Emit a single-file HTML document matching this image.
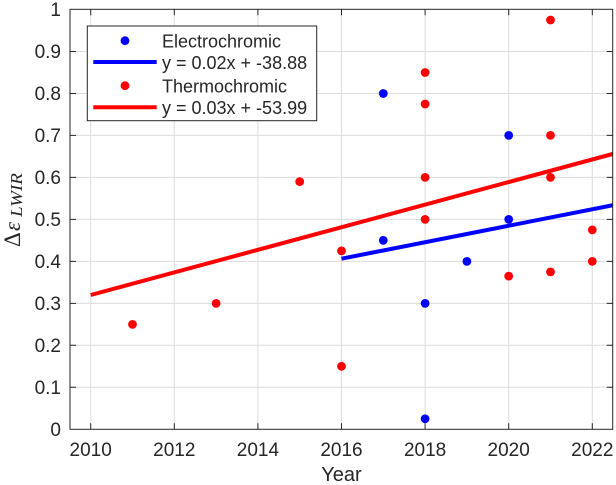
<!DOCTYPE html>
<html>
<head>
<meta charset="utf-8">
<style>
  html,body{margin:0;padding:0;background:#fff;}
  svg{display:block;}
  text{font-family:"Liberation Sans",Arial,sans-serif;fill:#262626;}
</style>
</head>
<body>
<svg width="616" height="485" viewBox="0 0 616 485" xmlns="http://www.w3.org/2000/svg">
  <defs>
    <clipPath id="pa"><rect x="70" y="9.3" width="542.7" height="420"/></clipPath>
  </defs>
  <rect x="0" y="0" width="616" height="485" fill="#fff"/>
  <!-- grid -->
  <g stroke="#dcdcdc" stroke-width="1">
    <line x1="90.7" y1="9.3" x2="90.7" y2="429.3"/>
    <line x1="174.3" y1="9.3" x2="174.3" y2="429.3"/>
    <line x1="257.9" y1="9.3" x2="257.9" y2="429.3"/>
    <line x1="341.5" y1="9.3" x2="341.5" y2="429.3"/>
    <line x1="425.1" y1="9.3" x2="425.1" y2="429.3"/>
    <line x1="508.7" y1="9.3" x2="508.7" y2="429.3"/>
    <line x1="592.3" y1="9.3" x2="592.3" y2="429.3"/>
    <line x1="70" y1="387.3" x2="612.7" y2="387.3"/>
    <line x1="70" y1="345.3" x2="612.7" y2="345.3"/>
    <line x1="70" y1="303.4" x2="612.7" y2="303.4"/>
    <line x1="70" y1="261.4" x2="612.7" y2="261.4"/>
    <line x1="70" y1="219.4" x2="612.7" y2="219.4"/>
    <line x1="70" y1="177.4" x2="612.7" y2="177.4"/>
    <line x1="70" y1="135.4" x2="612.7" y2="135.4"/>
    <line x1="70" y1="93.5" x2="612.7" y2="93.5"/>
    <line x1="70" y1="51.5" x2="612.7" y2="51.5"/>
  </g>
  <!-- ticks -->
  <g stroke="#262626" stroke-width="1">
    <path d="M90.7 429.3v-6M174.3 429.3v-6M257.9 429.3v-6M341.5 429.3v-6M425.1 429.3v-6M508.7 429.3v-6M592.3 429.3v-6"/>
    <path d="M90.7 9.3v6M174.3 9.3v6M257.9 9.3v6M341.5 9.3v6M425.1 9.3v6M508.7 9.3v6M592.3 9.3v6"/>
    <path d="M70 387.3h6M70 345.3h6M70 303.4h6M70 261.4h6M70 219.4h6M70 177.4h6M70 135.4h6M70 93.5h6M70 51.5h6"/>
    <path d="M612.7 387.3h-6M612.7 345.3h-6M612.7 303.4h-6M612.7 261.4h-6M612.7 219.4h-6M612.7 177.4h-6M612.7 135.4h-6M612.7 93.5h-6M612.7 51.5h-6"/>
  </g>
  <!-- data -->
  <g clip-path="url(#pa)">
    <g fill="#0000ff">
      <circle cx="383.3" cy="93.5" r="4.4"/>
      <circle cx="383.3" cy="240.4" r="4.4"/>
      <circle cx="425.1" cy="303.4" r="4.4"/>
      <circle cx="425.1" cy="418.8" r="4.4"/>
      <circle cx="466.9" cy="261.4" r="4.4"/>
      <circle cx="508.7" cy="135.4" r="4.4"/>
      <circle cx="508.7" cy="219.4" r="4.4"/>
    </g>
    <line x1="341.5" y1="258.7" x2="614" y2="205" stroke="#0000ff" stroke-width="4"/>
    <g fill="#ff0000">
      <circle cx="132.5" cy="324.4" r="4.4"/>
      <circle cx="216.1" cy="303.4" r="4.4"/>
      <circle cx="299.7" cy="181.6" r="4.4"/>
      <circle cx="341.5" cy="250.9" r="4.4"/>
      <circle cx="341.5" cy="366.3" r="4.4"/>
      <circle cx="425.1" cy="72.5" r="4.4"/>
      <circle cx="425.1" cy="104.0" r="4.4"/>
      <circle cx="425.1" cy="177.4" r="4.4"/>
      <circle cx="425.1" cy="219.4" r="4.4"/>
      <circle cx="508.7" cy="276.1" r="4.4"/>
      <circle cx="550.5" cy="20.0" r="4.4"/>
      <circle cx="550.5" cy="135.4" r="4.4"/>
      <circle cx="550.5" cy="177.4" r="4.4"/>
      <circle cx="550.5" cy="271.9" r="4.4"/>
      <circle cx="592.3" cy="229.9" r="4.4"/>
      <circle cx="592.3" cy="261.4" r="4.4"/>
    </g>
    <line x1="90.7" y1="295" x2="614" y2="153.6" stroke="#ff0000" stroke-width="4"/>
  </g>
  <!-- axes box -->
  <rect x="70" y="9.3" width="542.7" height="420" fill="none" stroke="#262626" stroke-width="1"/>
  <!-- y tick labels -->
  <g font-size="19" text-anchor="end">
    <text x="61" y="436">0</text>
    <text x="61" y="394">0.1</text>
    <text x="61" y="352">0.2</text>
    <text x="61" y="310">0.3</text>
    <text x="61" y="268">0.4</text>
    <text x="61" y="226">0.5</text>
    <text x="61" y="184">0.6</text>
    <text x="61" y="142">0.7</text>
    <text x="61" y="100">0.8</text>
    <text x="61" y="58">0.9</text>
    <text x="61" y="16">1</text>
  </g>
  <!-- x tick labels -->
  <g font-size="19" text-anchor="middle">
    <text x="90.7" y="456">2010</text>
    <text x="174.3" y="456">2012</text>
    <text x="257.9" y="456">2014</text>
    <text x="341.5" y="456">2016</text>
    <text x="425.1" y="456">2018</text>
    <text x="508.7" y="456">2020</text>
    <text x="592.3" y="456">2022</text>
  </g>
  <text x="341.5" y="481" font-size="20" text-anchor="middle">Year</text>
  <!-- y label -->
  <g transform="translate(20,247) rotate(-90)">
    <text x="0" y="0" font-size="23" style="font-family:'Liberation Serif',serif">Δ</text>
    <text x="16" y="0" font-size="23" font-style="italic" style="font-family:'Liberation Serif',serif">ε</text>
    <text x="30" y="2" font-size="17" font-style="italic" textLength="44" lengthAdjust="spacingAndGlyphs" style="font-family:'Liberation Serif',serif">LWIR</text>
  </g>
  <!-- legend -->
  <rect x="87.3" y="26" width="229.4" height="94.7" fill="#fff" stroke="#262626" stroke-width="1"/>
  <circle cx="125" cy="40.7" r="4.4" fill="#0000ff"/>
  <line x1="93.3" y1="62" x2="156.7" y2="62" stroke="#0000ff" stroke-width="4"/>
  <circle cx="125" cy="85.7" r="4.4" fill="#ff0000"/>
  <line x1="93.3" y1="107.3" x2="156.7" y2="107.3" stroke="#ff0000" stroke-width="4"/>
  <g font-size="18">
    <text x="162" y="47.3">Electrochromic</text>
    <text x="162" y="69">y = 0.02x + -38.88</text>
    <text x="162" y="92.3">Thermochromic</text>
    <text x="162" y="114">y = 0.03x + -53.99</text>
  </g>
</svg>
</body>
</html>
